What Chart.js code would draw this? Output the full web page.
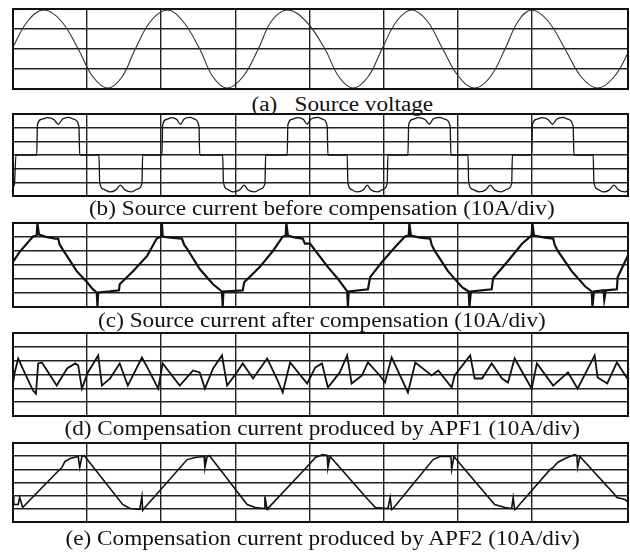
<!DOCTYPE html>
<html>
<head>
<meta charset="utf-8">
<script src="https://cdn.jsdelivr.net/npm/chart.js@4.4.0/dist/chart.umd.min.js"></script>
<style>
  html, body { margin: 0; padding: 0; background: #fff; }
  #page { position: relative; width: 630px; height: 552px; overflow: hidden; background: #fff; }
  canvas { position: absolute; }
  .cap { position: absolute; width: 630px; text-align: center; white-space: nowrap;
         font-family: "Liberation Serif", "Times New Roman", serif; font-size: 20px; line-height: 20px; color: #111; }
  .cap span { display: inline-block; transform: scaleX(1.16); }
</style>
</head>
<body>
<div id="page">
  <canvas id="ca" width="619" height="84" style="left:11px;top:7px"></canvas>
  <div class="cap" style="top:94px;left:27px"><span>(a)&nbsp;&nbsp;&nbsp;Source voltage</span></div>
  <canvas id="cb" width="619" height="86" style="left:11px;top:112px"></canvas>
  <div class="cap" style="top:198px;left:7px"><span>(b) Source current before compensation (10A/div)</span></div>
  <canvas id="cc" width="619" height="88" style="left:11px;top:221px"></canvas>
  <div class="cap" style="top:310px;left:7px"><span>(c) Source current after compensation (10A/div)</span></div>
  <canvas id="cd" width="619" height="87" style="left:11px;top:331px"></canvas>
  <div class="cap" style="top:418px;left:7px"><span>(d) Compensation current produced by APF1 (10A/div)</span></div>
  <canvas id="ce" width="619" height="83" style="left:11px;top:441px"></canvas>
  <div class="cap" style="top:528px;left:8px"><span>(e) Compensation current produced by APF2 (10A/div)</span></div>
</div>
<script>
// time axis in screen divisions, currents in A (10A/div), voltage in divisions

// (a) source voltage
var aT = [0, 0.20, 0.42, 0.65, 0.88, 1.08, 1.28, 1.47, 1.65, 1.86, 2.08, 2.29, 2.52, 2.70, 2.89, 3.10, 3.31, 3.49, 3.70, 3.95, 4.21,
          4.40, 4.59, 4.79, 4.98, 5.18, 5.38, 5.59, 5.80, 6.02, 6.23, 6.44, 6.64, 6.82, 7.00, 7.22, 7.45, 7.67, 7.89, 8.11, 8.33]
var aV = [0.1, 1.4, 1.95, 1.4, 0, -1.4, -1.95, -1.4, 0, 1.4, 1.95, 1.4, 0, -1.4, -1.95, -1.4, 0, 1.4, 1.95, 1.4, 0,
          -1.4, -1.95, -1.4, 0, 1.4, 1.95, 1.4, 0, -1.4, -1.95, -1.4, 0, 1.4, 1.95, 1.4, 0, -1.4, -1.95, -1.4, 0]

// (b) source current before compensation
var bT = [0, 0.02, 0.04,
  0.32, 0.33, 0.38, 0.47, 0.55, 0.61, 0.67, 0.75, 0.83, 0.89, 0.90,
  1.16, 1.17, 1.22, 1.31, 1.39, 1.45, 1.51, 1.60, 1.68, 1.74, 1.75,
  2.01, 2.02, 2.07, 2.14, 2.21, 2.26, 2.31, 2.39, 2.46, 2.51, 2.52,
  2.83, 2.84, 2.89, 2.97, 3.06, 3.12, 3.17, 3.26, 3.34, 3.40, 3.41,
  3.70, 3.71, 3.76, 3.84, 3.92, 3.97, 4.02, 4.11, 4.19, 4.24, 4.25,
  4.51, 4.52, 4.56, 4.64, 4.73, 4.78, 4.83, 4.92, 5.00, 5.05, 5.06,
  5.33, 5.34, 5.39, 5.47, 5.56, 5.62, 5.67, 5.76, 5.84, 5.90, 5.91,
  6.14, 6.15, 6.20, 6.29, 6.38, 6.44, 6.50, 6.59, 6.67, 6.73, 6.74,
  7.00, 7.01, 7.06, 7.14, 7.22, 7.28, 7.34, 7.42, 7.50, 7.56, 7.57,
  7.83, 7.84, 7.89, 7.97, 8.05, 8.11, 8.17, 8.26, 8.34]
var bI = [-24, -21, 0,
  0, 22, 26, 27.3, 26, 22.5, 26.3, 27.5, 26, 21, 0,
  0, -20, -25, -27, -25.5, -22, -25.5, -27, -25, -21, 0,
  0, 22, 26, 27.3, 26, 22.5, 26.3, 27.5, 26, 21, 0,
  0, -20, -25, -27, -25.5, -22, -25.5, -27, -25, -21, 0,
  0, 22, 26, 27.3, 26, 22.5, 26.3, 27.5, 26, 21, 0,
  0, -20, -25, -27, -25.5, -22, -25.5, -27, -25, -21, 0,
  0, 22, 26, 27.3, 26, 22.5, 26.3, 27.5, 26, 21, 0,
  0, -20, -25, -27, -25.5, -22, -25.5, -27, -25, -21, 0,
  0, 22, 26, 27.3, 26, 22.5, 26.3, 27.5, 26, 21, 0,
  0, -20, -25, -27, -25.5, -22, -25.5, -27, -25]

// (c) source current after compensation
var cT = [0, 0.09, 0.27, 0.32, 0.33, 0.35, 0.43, 0.50, 0.57, 0.61, 0.63, 0.86, 1.00, 1.08, 1.13, 1.14, 1.15, 1.31, 1.43, 1.44,
  1.62, 1.81, 1.94, 2.00, 2.01, 2.02, 2.12, 2.28, 2.31, 2.35, 2.52, 2.70, 2.82, 2.83, 2.84, 3.10, 3.12, 3.33, 3.51, 3.64,
  3.68, 3.69, 3.71, 3.81, 3.91, 3.94, 4.01, 4.08, 4.25, 4.39, 4.51, 4.52, 4.53, 4.79, 4.82, 4.98, 5.16, 5.29, 5.34, 5.35,
  5.37, 5.49, 5.63, 5.65, 5.69, 5.87, 6.06, 6.15, 6.16, 6.18, 6.46, 6.48, 6.68, 6.87, 6.98, 7.00, 7.01, 7.03, 7.18, 7.29,
  7.31, 7.35, 7.54, 7.72, 7.81, 7.82, 7.84, 7.97, 7.98, 8.00, 8.15, 8.16, 8.33]
var cI = [2.2, 9.4, 20.3, 21.0, 29.7, 21.8, 20.3, 19.6, 18.9, 18.9, 14.5, -4.4, -12.3, -17.4, -19.6, -29.7, -19.6, -18.9, -18.1, -13.8,
  -4.4, 6.5, 18.9, 20.3, 29.7, 20.3, 19.6, 18.9, 14.5, 11.6, -2.9, -13.8, -18.9, -29.7, -18.9, -18.1, -12.3, -1.5, 10.2, 20.3,
  21.0, 29.7, 21.0, 19.6, 18.9, 15.2, 15.2, 10.2, -1.5, -10.2, -18.9, -29.7, -18.9, -17.4, -8.7, 2.2, 13.0, 20.3, 21.0, 29.7,
  21.0, 19.6, 18.9, 14.5, 10.2, -4.4, -15.9, -18.9, -29.7, -18.9, -17.4, -9.4, 2.9, 15.2, 20.3, 21.0, 29.7, 21.0, 19.6, 18.9,
  14.5, 10.2, -4.4, -15.2, -18.9, -29.7, -18.9, -18.1, -24.7, -18.1, -17.4, -8.7, 10.2]

// (d) compensation current of APF1
var dT = [0, 0.02, 0.07, 0.13, 0.27, 0.31, 0.34, 0.39, 0.59, 0.73, 0.84, 0.88, 0.93, 1.01, 1.15, 1.20, 1.31, 1.44, 1.55, 1.74,
  1.82, 1.96, 2.02, 2.25, 2.43, 2.52, 2.59, 2.70, 2.82, 2.89, 3.02, 3.10, 3.24, 3.43, 3.56, 3.64, 3.74, 3.97, 4.08, 4.17,
  4.25, 4.41, 4.51, 4.57, 4.71, 4.79, 4.95, 5.02, 5.11, 5.33, 5.43, 5.65, 5.74, 5.92, 5.96, 6.17, 6.23, 6.33, 6.46, 6.60,
  6.68, 6.77, 7.00, 7.07, 7.29, 7.49, 7.62, 7.85, 7.89, 8.02, 8.15, 8.29, 8.33]
var dI = [-6.5, 0.7, 11.6, 4.4, -11.6, -13.8, 8.0, 8.7, -8.0, 4.4, 8.0, 6.5, -10.2, 1.5, 13.8, -8.0, -2.9, 8.0, -8.0, 12.3,
  4.4, -10.2, 8.0, -8.0, 2.9, 1.5, -10.2, 4.4, 13.8, -8.0, 1.5, 8.0, -2.9, 11.6, -2.9, -13.0, 8.7, -6.5, 5.1, 8.0,
  -9.4, 1.5, 13.8, -6.5, -0.7, 8.7, -0.7, -5.8, 12.3, -13.0, 8.7, -0.7, 2.9, -9.4, -0.7, 13.8, -2.9, -2.9, 8.0, -2.9,
  -5.8, 11.6, -10.2, 8.0, -8.0, 1.5, -10.2, 13.8, -2.2, -6.5, 8.7, -2.9, 1.5]

// (e) compensation current of APF2
var eT = [0, 0.01, 0.07, 0.09, 0.13, 0.63, 0.66, 0.70, 0.77, 0.88, 0.90, 0.93, 0.96, 1.48, 1.58, 1.71, 1.74, 1.75, 1.78, 2.35,
  2.46, 2.58, 2.59, 2.62, 2.65, 3.16, 3.27, 3.39, 3.40, 3.43, 3.44, 4.01, 4.08, 4.18, 4.24, 4.25, 4.28, 4.79, 4.89, 5.06,
  5.09, 5.11, 5.13, 5.67, 5.76, 5.91, 5.92, 5.95, 6.50, 6.64, 6.73, 6.75, 6.77, 6.79, 7.25, 7.29, 7.35, 7.45, 7.58, 7.61,
  7.62, 7.65, 8.12, 8.15, 8.26, 8.33]
var eI = [-10.6, -16.7, -16.7, -11.4, -19.0, 9.9, 11.4, 15.9, 18.2, 19.7, 11.4, 19.7, 20.5, -16.7, -19.7, -20.5, -10.6, -21.2, -19.0, 17.4,
  19.0, 19.7, 11.4, 19.7, 20.5, -16.7, -19.0, -19.7, -10.6, -20.5, -19.7, 14.4, 19.0, 21.2, 20.5, 11.4, 19.7, -12.9, -19.0, -19.7,
  -11.4, -20.5, -19.7, 17.4, 19.7, 19.7, 9.9, 19.7, -16.7, -19.0, -19.7, -11.4, -20.5, -19.7, 9.9, 11.4, 15.2, 18.2, 21.2, 20.5,
  11.4, 19.7, -9.1, -11.4, -12.9, -16.7]

var frame = {
  id: 'frame',
  afterDraw: function(chart) {
    var ctx = chart.ctx, a = chart.chartArea
    ctx.save()
    ctx.strokeStyle = '#111'
    ctx.lineWidth = 2
    ctx.strokeRect(a.left, a.top, a.right - a.left, a.bottom - a.top)
    ctx.restore()
  }
}

function scope(id, xs, ys, yMax, step, width, color, opts) {
  opts = opts || {}
  var ds = {
    data: xs.map(function(x, i) { return { x: x, y: ys[i] } }),
    borderColor: color,
    borderWidth: width,
    pointRadius: 0,
    fill: false,
    tension: opts.tension || 0
  }
  if (opts.monotone) ds.cubicInterpolationMode = 'monotone'
  return new Chart(document.getElementById(id), {
    type: 'line',
    data: { datasets: [ds] },
    plugins: [frame],
    options: {
      responsive: false,
      animation: false,
      layout: { padding: { left: 2, right: 2, top: 2, bottom: 2 } },
      plugins: { legend: { display: false }, tooltip: { enabled: false } },
      scales: {
        x: {
          type: 'linear', min: 0, max: 8.3,
          ticks: { display: false, stepSize: 1 },
          grid: { color: '#222', lineWidth: 1.4, drawTicks: false },
          border: { display: false },
          afterFit: function(s) { s.height = 0 }
        },
        y: {
          min: -yMax, max: yMax,
          ticks: { display: false, stepSize: step },
          grid: { color: '#222', lineWidth: 1.6, drawTicks: false },
          border: { display: false },
          afterFit: function(s) { s.width = 0 }
        }
      }
    }
  })
}

scope('ca', aT, aV, 2, 1, 1.1, '#333', { tension: 0.4 })
scope('cb', bT, bI, 30, 10, 1.3, '#151515', { monotone: true })
scope('cc', cT, cI, 30, 10, 2.2, '#111')
scope('cd', dT, dI, 30, 10, 1.8, '#111')
scope('ce', eT, eI, 30, 10, 1.6, '#111')
</script>
</body>
</html>
